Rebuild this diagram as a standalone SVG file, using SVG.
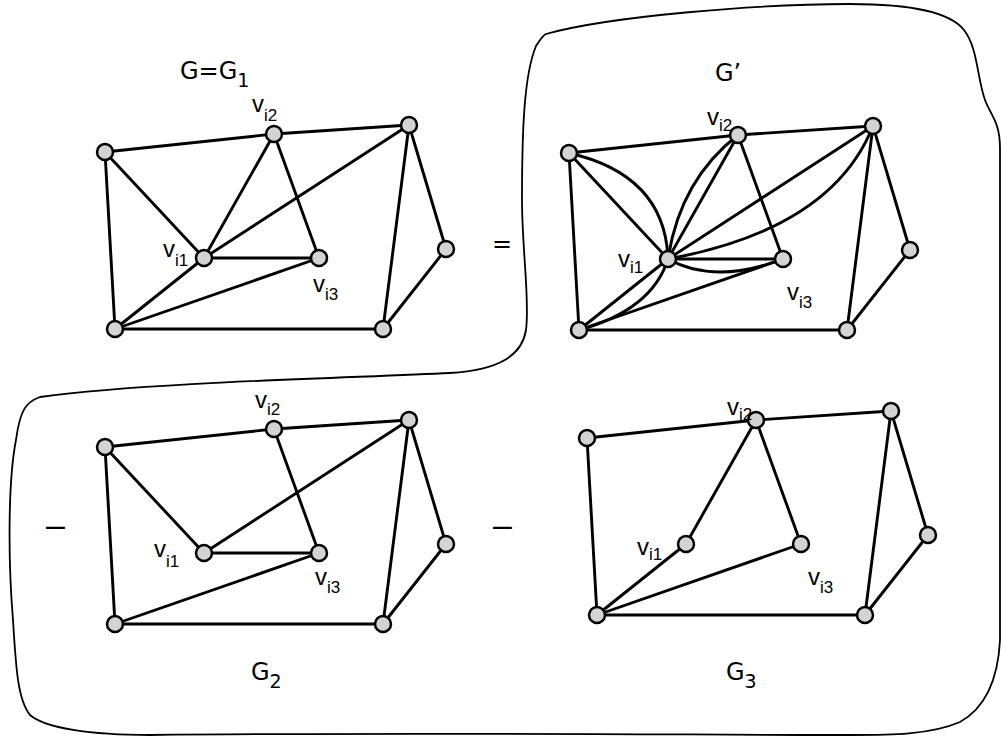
<svg xmlns="http://www.w3.org/2000/svg" width="1001" height="738" viewBox="0 0 1001 738">
<style>
.e{stroke:#000;stroke-width:2.9;fill:none;stroke-linecap:round}
.n{fill:#d3d3d3;stroke:#000;stroke-width:2.5}
.lbl{font-family:"Liberation Sans",Arial,sans-serif;font-size:24px;fill:#000}
.sub{font-size:17px}
.title{font-family:"DejaVu Sans",sans-serif;font-size:24px;fill:#000}
.dash{font-family:"Liberation Sans",Arial,sans-serif;font-size:34px;fill:#000}
.outline{fill:none;stroke:#000;stroke-width:1.8}
</style>
<defs>
<g id="baseEdges">
<line class="e" x1="105" y1="152" x2="274" y2="134"/>
<line class="e" x1="274" y1="134" x2="409" y2="125"/>
<line class="e" x1="105" y1="152" x2="115" y2="329"/>
<line class="e" x1="115" y1="329" x2="319" y2="258"/>
<line class="e" x1="115" y1="329" x2="383" y2="329"/>
<line class="e" x1="409" y1="125" x2="383" y2="329"/>
<line class="e" x1="409" y1="125" x2="446" y2="249"/>
<line class="e" x1="446" y1="249" x2="383" y2="329"/>
<line class="e" x1="274" y1="134" x2="319" y2="258"/>
</g>
</defs>

<path id="outline" class="outline" d="M546,34 C610,16 760,4 850,4 C910,4 950,12 964,30 C978,48 977,78 985,100 C991,116 1000,122 1000,148 L1000,640 C998,680 985,708 960,722 C930,735 890,735 850,735 C700,735 400,732 150,735 C90,735 45,728 30,715 C18,700 16,670 13,620 C8,560 8,480 16,440 C20,410 26,402 40,397 C150,382 350,378 450,373 C500,370 522,355 526,330 C530,300 522,250 522,200 C522,130 524,75 536,46 C540,40 542,36 546,34 Z"/>

<!-- G1 -->
<g id="graph-G1">
<g id="G1-connectors">
<use href="#baseEdges"/>
<line class="e" x1="105" y1="152" x2="204" y2="258"/>
<line class="e" x1="204" y1="258" x2="274" y2="134"/>
<line class="e" x1="204" y1="258" x2="409" y2="125"/>
<line class="e" x1="204" y1="258" x2="319" y2="258"/>
<line class="e" x1="115" y1="329" x2="204" y2="258"/>
</g>
<g id="G1-a"><circle class="n" cx="105" cy="152" r="8"/></g>
<g id="G1-vi2"><circle class="n" cx="274" cy="134" r="8"/></g>
<g id="G1-c"><circle class="n" cx="409" cy="125" r="8"/></g>
<g id="G1-d"><circle class="n" cx="446" cy="249" r="8"/></g>
<g id="G1-e"><circle class="n" cx="383" cy="329" r="8"/></g>
<g id="G1-f"><circle class="n" cx="115" cy="329" r="8"/></g>
<g id="G1-vi1"><circle class="n" cx="204" cy="258" r="8"/></g>
<g id="G1-vi3"><circle class="n" cx="319" cy="258" r="8"/></g>
</g>

<!-- G' -->
<g id="graph-Gp" transform="translate(464,1)">
<g id="Gp-connectors">
<use href="#baseEdges"/>
<line class="e" x1="105" y1="152" x2="204" y2="258"/>
<line class="e" x1="204" y1="258" x2="274" y2="134"/>
<line class="e" x1="204" y1="258" x2="409" y2="125"/>
<line class="e" x1="204" y1="258" x2="319" y2="258"/>
<line class="e" x1="115" y1="329" x2="204" y2="258"/>
<path class="e" d="M105,152 Q201,174 204,258"/>
<path class="e" d="M204,258 Q216,179 274,134"/>
<path class="e" d="M204,258 Q368,228 409,125"/>
<path class="e" d="M204,258 Q251,284 319,258"/>
<path class="e" d="M204,258 Q188,309 115,329"/>
</g>
<g id="Gp-a"><circle class="n" cx="105" cy="152" r="8"/></g>
<g id="Gp-vi2"><circle class="n" cx="274" cy="134" r="8"/></g>
<g id="Gp-c"><circle class="n" cx="409" cy="125" r="8"/></g>
<g id="Gp-d"><circle class="n" cx="446" cy="249" r="8"/></g>
<g id="Gp-e"><circle class="n" cx="383" cy="329" r="8"/></g>
<g id="Gp-f"><circle class="n" cx="115" cy="329" r="8"/></g>
<g id="Gp-vi1"><circle class="n" cx="204" cy="258" r="8"/></g>
<g id="Gp-vi3"><circle class="n" cx="319" cy="258" r="8"/></g>
</g>

<!-- G2 -->
<g id="graph-G2" transform="translate(0,295)">
<g id="G2-connectors">
<use href="#baseEdges"/>
<line class="e" x1="105" y1="152" x2="204" y2="258"/>
<line class="e" x1="204" y1="258" x2="409" y2="125"/>
<line class="e" x1="204" y1="258" x2="319" y2="258"/>
</g>
<g id="G2-a"><circle class="n" cx="105" cy="152" r="8"/></g>
<g id="G2-vi2"><circle class="n" cx="274" cy="134" r="8"/></g>
<g id="G2-c"><circle class="n" cx="409" cy="125" r="8"/></g>
<g id="G2-d"><circle class="n" cx="446" cy="249" r="8"/></g>
<g id="G2-e"><circle class="n" cx="383" cy="329" r="8"/></g>
<g id="G2-f"><circle class="n" cx="115" cy="329" r="8"/></g>
<g id="G2-vi1"><circle class="n" cx="204" cy="258" r="8"/></g>
<g id="G2-vi3"><circle class="n" cx="319" cy="258" r="8"/></g>
</g>

<!-- G3 -->
<g id="graph-G3" transform="translate(482,286)">
<g id="G3-connectors">
<use href="#baseEdges"/>
<line class="e" x1="204" y1="258" x2="274" y2="134"/>
<line class="e" x1="115" y1="329" x2="204" y2="258"/>
</g>
<g id="G3-a"><circle class="n" cx="105" cy="152" r="8"/></g>
<g id="G3-vi2"><circle class="n" cx="274" cy="134" r="8"/></g>
<g id="G3-c"><circle class="n" cx="409" cy="125" r="8"/></g>
<g id="G3-d"><circle class="n" cx="446" cy="249" r="8"/></g>
<g id="G3-e"><circle class="n" cx="383" cy="329" r="8"/></g>
<g id="G3-f"><circle class="n" cx="115" cy="329" r="8"/></g>
<g id="G3-vi1"><circle class="n" cx="204" cy="258" r="8"/></g>
<g id="G3-vi3"><circle class="n" cx="319" cy="258" r="8"/></g>
</g>

<g id="labels">
<text class="lbl" x="252" y="112">v<tspan class="sub" dy="9">i2</tspan></text>
<text class="lbl" x="163" y="257">v<tspan class="sub" dy="9">i1</tspan></text>
<text class="lbl" x="313" y="292">v<tspan class="sub" dy="8">i3</tspan></text>

<text class="lbl" x="707" y="125">v<tspan class="sub" dy="6">i2</tspan></text>
<text class="lbl" x="618" y="267">v<tspan class="sub" dy="6">i1</tspan></text>
<text class="lbl" x="787" y="300">v<tspan class="sub" dy="8">i3</tspan></text>

<text class="lbl" x="255" y="408">v<tspan class="sub" dy="7">i2</tspan></text>
<text class="lbl" x="154" y="557">v<tspan class="sub" dy="10">i1</tspan></text>
<text class="lbl" x="315" y="585">v<tspan class="sub" dy="8">i3</tspan></text>

<text class="lbl" x="727" y="415">v<tspan class="sub" dy="5">i2</tspan></text>
<text class="lbl" x="637" y="555">v<tspan class="sub" dy="5">i1</tspan></text>
<text class="lbl" x="808" y="585">v<tspan class="sub" dy="8">i3</tspan></text>
</g>

<g id="titles">
<text class="title" x="180" y="79">G=G<tspan font-size="19" dy="8">1</tspan></text>
<text class="title" x="715" y="81">G’</text>
<text class="title" x="251" y="680">G<tspan font-size="19" dy="8">2</tspan></text>
<text class="title" x="726" y="680">G<tspan font-size="19" dy="8">3</tspan></text>
<text class="title" x="502" y="252" text-anchor="middle">=</text>
<text class="dash" x="46" y="536">–</text>
<text class="dash" x="493" y="536">–</text>
</g>
</svg>
